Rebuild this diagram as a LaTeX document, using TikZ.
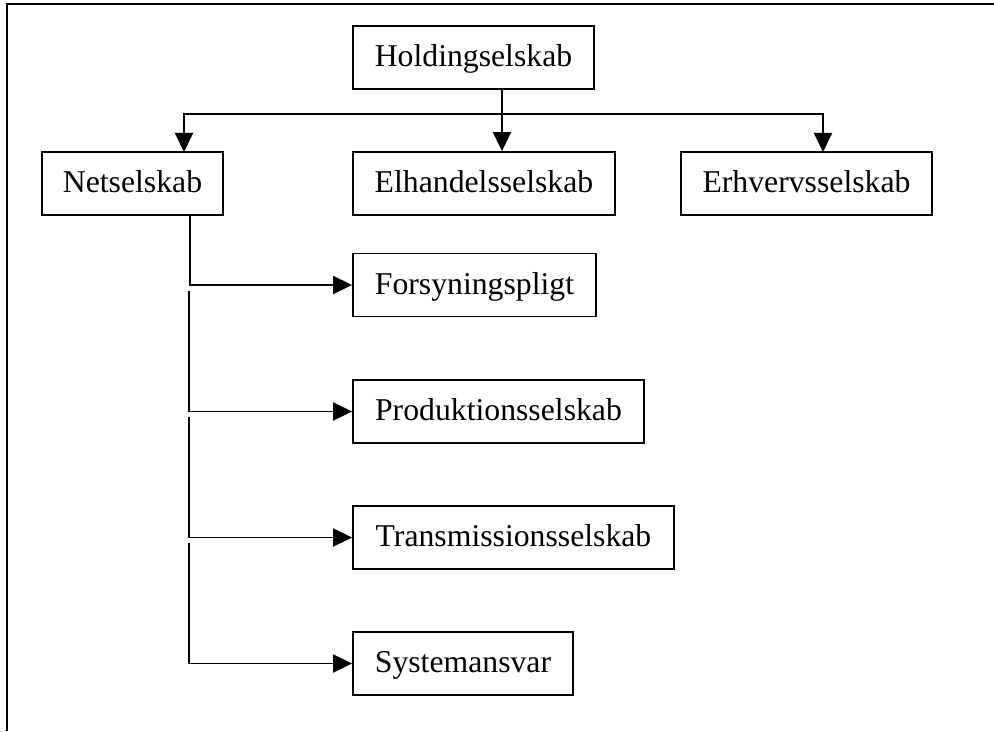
\documentclass[tikz,border=0pt]{standalone}
\usepackage{fontspec}
\setmainfont{Liberation Serif}
\usetikzlibrary{arrows.meta}
\begin{document}
\begin{tikzpicture}[x=0.75pt,y=-0.75pt,
  box/.style={draw, line width=1.4pt, inner sep=0pt, minimum height=47.25pt,
    text height=19pt, text depth=5.5pt, font=\fontsize{23.8}{28}\selectfont},
  conn/.style={line width=1.4pt},
  arr/.style={conn, -{Triangle[length=14.25pt,width=13.5pt]}}]
\useasboundingbox (0,0) rectangle (994,731);
% frame
\draw[line width=1.4pt] (7,731) -- (7,4) -- (994,4);
% nodes
\node[box, minimum width=180.75pt] (hold) at (473.5,57.5) {Holdingselskab};
\node[box, minimum width=135.75pt] (net) at (132.5,183.5) {Netselskab};
\node[box, minimum width=196.5pt] (ela) at (484,183.5) {Elhandelsselskab};
\node[box, minimum width=188.25pt] (erh) at (806.5,183.5) {Erhvervsselskab};
\node[box, minimum width=182.25pt] (fors) at (474.5,285) {Forsyningspligt};
\node[box, minimum width=218.25pt] (prod) at (498.5,411.5) {Produktionsselskab};
\node[box, minimum width=240.75pt] (trans) at (513.5,537.5) {Transmissionsselskab};
\node[box, minimum width=165pt] (sys) at (463,663.5) {Systemansvar};
% top connectors
\coordinate (j) at (502,114);
\coordinate (na) at (184,152);
\coordinate (ea) at (823,152);
\draw[arr] (hold.south -| j) -- (ela.north -| j);
\draw[arr] (j) -| (na);
\draw[arr] (j) -| (ea);
% branch from Netselskab
\coordinate (b0) at (190,215);
\coordinate (s1) at (189,291);
\coordinate (s2) at (189,417);
\coordinate (s3) at (189,543);
\draw[arr] (net.south -| b0) |- (fors.west);
\draw[arr] (s1) |- (prod.west);
\draw[arr] (s2) |- (trans.west);
\draw[arr] (s3) |- (sys.west);
\end{tikzpicture}
\end{document}
